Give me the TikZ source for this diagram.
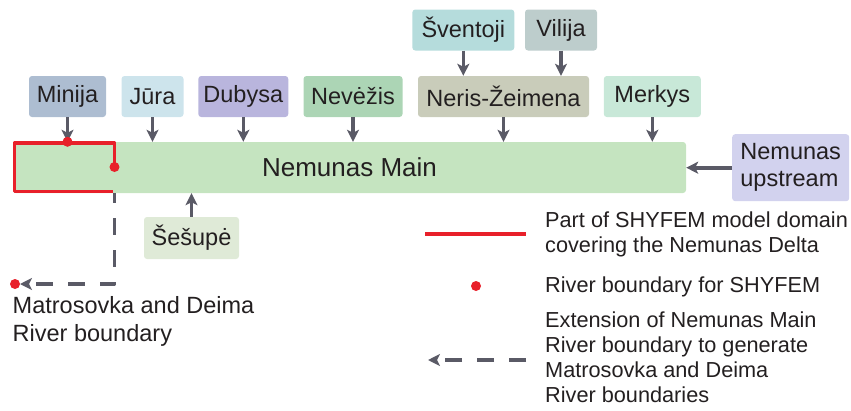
\documentclass[tikz,border=0pt]{standalone}
\usepackage{fontspec}
\setmainfont{Liberation Sans}
\usetikzlibrary{arrows.meta}
\definecolor{cMinija}{HTML}{ADBDD1}
\definecolor{cJura}{HTML}{CDE4EC}
\definecolor{cDubysa}{HTML}{B9B5DD}
\definecolor{cNevezis}{HTML}{ACD5B5}
\definecolor{cNeris}{HTML}{C9CCBA}
\definecolor{cSventoji}{HTML}{B5DCDC}
\definecolor{cVilija}{HTML}{BDCDCC}
\definecolor{cMerkys}{HTML}{C8E8D8}
\definecolor{cUpstream}{HTML}{D2D2EE}
\definecolor{cMain}{HTML}{C5E4C0}
\definecolor{cSesupe}{HTML}{DFEAD7}
\definecolor{cArrow}{HTML}{5A5A66}
\definecolor{cRed}{HTML}{E8202A}
\definecolor{cText}{HTML}{231F20}
\begin{document}
\begin{tikzpicture}[x=1pt,y=-1pt,>={Stealth[length=12pt,width=12pt,inset=3pt]},line join=round,
		font=\fontsize{23.5}{28}\selectfont,text=cText,
		river/.style={rectangle,rounded corners=3pt,inner sep=0pt,minimum height=41pt},
		flow/.style={->,line width=3.6pt,draw=cArrow},
		delta/.style={line width=3.3pt,draw=cRed},
		ext/.style={->,line width=3.4pt,draw=cArrow,dash pattern=on 17pt off 15pt},
		legtext/.style={anchor=north west,inner sep=0pt,align=left,font=\fontsize{21.7}{25}\selectfont}]
		\useasboundingbox (0,0) rectangle (851,410);
		% tributaries
		\node[river,fill=cMinija,minimum width=77pt] (minija) at (67.5,96.5) {Minija};
		\node[river,fill=cJura,minimum width=62pt] (jura) at (152.5,96.5) {Jūra};
		\node[river,fill=cDubysa,minimum width=90pt] (dubysa) at (243.3,96.5) {Dubysa};
		\node[river,fill=cNevezis,minimum width=99pt] (nevezis) at (353,96.5) {Nevėžis};
		\node[river,fill=cNeris,minimum width=171pt] (neris) at (503.5,96.5) {Neris-Žeimena};
		\node[river,fill=cMerkys,minimum width=97pt] (merkys) at (652.3,96.5) {Merkys};
		\node[river,fill=cSventoji,minimum width=102pt] (sventoji) at (463.3,30) {Šventoji};
		\node[river,fill=cVilija,minimum width=72pt] (vilija) at (561,30) {Vilija};
		\node[river,fill=cSesupe,minimum width=95pt,minimum height=42pt] (sesupe) at (191.5,238) {Šešupė};
		\node[river,fill=cUpstream,minimum width=117pt,minimum height=67pt,align=left,
			font=\fontsize{23.5}{27}\selectfont] (upstream) at (790.7,167.7) {Nemunas\\upstream};
		% main river
		\node[river,fill=cMain,minimum width=673pt,minimum height=51pt,
			font=\fontsize{26}{30}\selectfont] (main) at (349.5,167.5) {Nemunas Main};
		\foreach \r in {minija,jura,dubysa,nevezis,neris,merkys}
			\draw[flow] (\r.south) -- (\r.south |- main.north);
		\draw[flow] (sventoji.south) -- (sventoji.south |- neris.north);
		\draw[flow] (vilija.south) -- (vilija.south |- neris.north);
		\draw[flow] (sesupe.north) -- (sesupe.north |- main.south);
		\draw[flow] (upstream.west) -- (upstream.west -| main.east);
		% SHYFEM domain
		\draw[delta] (114.5,167) |- (14.5,143) |- (113,191.5);
		\coordinate (mdend) at (15,284);
		\draw[ext,dash phase=7pt,shorten >=5pt] (114.5,193) |- (mdend);
		\path[fill=cRed] (minija.south |- main.north) circle (5pt);
		\path[fill=cRed] (114.5,167) circle (5pt);
		\path[fill=cRed] (mdend) circle (5pt);
		\node[anchor=north west,inner sep=0pt,align=left] (mdtext) at (12.5,296) {Matrosovka and Deima\\River boundary};
		% legend
		\coordinate (l1a) at (425,234);
		\coordinate (l1b) at (526,234);
		\draw[delta,line cap=butt] (l1a) -- (l1b);
		\node[legtext] (leg1) at (545,212) {Part of SHYFEM model domain\\covering the Nemunas Delta};
		\path[fill=cRed] (476,286) circle (5pt);
		\node[legtext] (leg2) at (545,276.5) {River boundary for SHYFEM};
		\coordinate (l3a) at (526,360);
		\coordinate (l3b) at (428,360);
		\draw[ext] (l3a) -- (l3b);
		\node[legtext] (leg3) at (545,312) {Extension of Nemunas Main\\River boundary to generate\\Matrosovka and Deima\\River boundaries};
\end{tikzpicture}
\end{document}
